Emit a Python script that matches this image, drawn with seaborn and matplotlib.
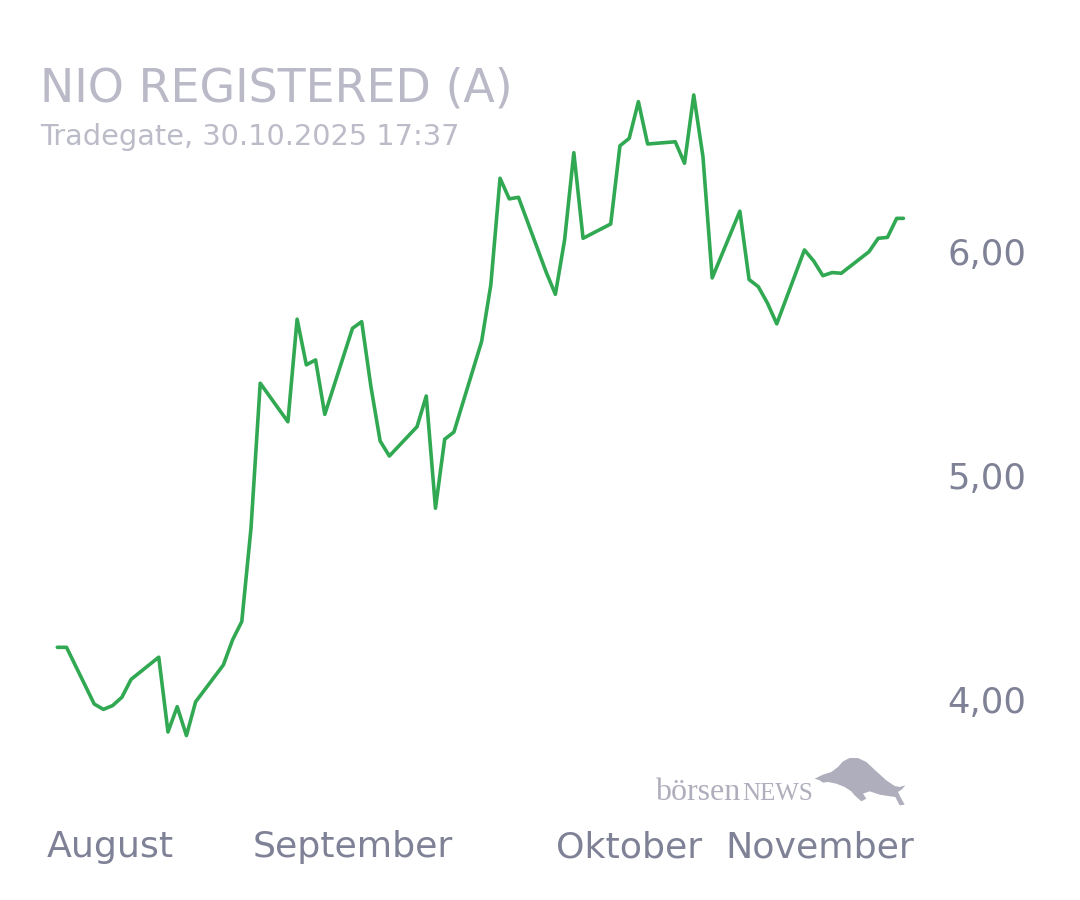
import matplotlib
matplotlib.use('Agg')
import matplotlib.pyplot as plt
from matplotlib.patches import Polygon
import seaborn as sns
import pandas as pd

# daily prices (EUR)
dates = ['2025-07-31', '2025-08-01', '2025-08-04', '2025-08-05', '2025-08-06', '2025-08-07', '2025-08-08',
         '2025-08-11', '2025-08-12', '2025-08-13', '2025-08-14', '2025-08-15', '2025-08-18', '2025-08-19',
         '2025-08-20', '2025-08-21', '2025-08-22', '2025-08-25', '2025-08-26', '2025-08-27', '2025-08-28',
         '2025-08-29', '2025-09-01', '2025-09-02', '2025-09-03', '2025-09-04', '2025-09-05', '2025-09-08',
         '2025-09-09', '2025-09-10', '2025-09-11', '2025-09-12', '2025-09-15', '2025-09-16', '2025-09-17',
         '2025-09-18', '2025-09-19', '2025-09-22', '2025-09-23', '2025-09-24', '2025-09-25', '2025-09-26',
         '2025-09-29', '2025-09-30', '2025-10-01', '2025-10-02', '2025-10-03', '2025-10-06', '2025-10-07',
         '2025-10-08', '2025-10-09', '2025-10-10', '2025-10-13', '2025-10-14', '2025-10-15', '2025-10-16',
         '2025-10-17', '2025-10-20', '2025-10-21', '2025-10-22', '2025-10-23', '2025-10-24', '2025-10-27',
         '2025-10-28', '2025-10-29', '2025-10-30 00:00', '2025-10-30 17:37']
prices = [4.235, 4.235, 3.982, 3.958, 3.975, 4.012, 4.092,
          4.191, 3.857, 3.970, 3.841, 3.992, 4.156, 4.268,
          4.350, 4.767, 5.414, 5.242, 5.700, 5.496, 5.518,
          5.275, 5.659, 5.689, 5.399, 5.156, 5.089, 5.220,
          5.357, 4.856, 5.164, 5.196, 5.600, 5.853, 6.329,
          6.237, 6.244, 5.910, 5.811, 6.054, 6.443, 6.061,
          6.125, 6.474, 6.507, 6.671, 6.482, 6.492, 6.396,
          6.701, 6.425, 5.884, 6.182, 5.877, 5.845, 5.771,
          5.679, 6.009, 5.960, 5.894, 5.908, 5.905, 6.001,
          6.061, 6.065, 6.150, 6.150]

month_labels = ['August', 'September', 'Oktober', 'November']
month_starts = ['2025-09-01', '2025-10-01']
y_ticks = [4, 5, 6]
y_labels = ['4,00', '5,00', '6,00']

df = pd.DataFrame({'date': pd.to_datetime(dates, format='mixed'), 'price': prices})

sns.set_style('white')
plt.rcParams['font.family'] = ['DejaVu Sans']

fig = plt.figure(figsize=(10.8, 9), dpi=100)
ax = fig.add_axes([47 / 1080, 1 - 790 / 900, 867 / 1080, 730 / 900])

sns.lineplot(data=df, x='date', y='price', ax=ax, color='#31a852', linewidth=2.6)

t0 = pd.Timestamp('2025-07-31')
x_lo = t0 - pd.Timedelta(days=1.117)
x_hi = t0 + pd.Timedelta(days=92.88)
ax.set_xlim(x_lo, x_hi)
ax.set_ylim(3.598, 6.857)

sns.despine(ax=ax, left=True, bottom=True)
ax.set_xlabel('')
ax.set_ylabel('')

tick_col = '#7f8196'
ax.set_xticks([x_lo] + list(pd.to_datetime(month_starts)) + [x_hi])
ax.set_xticklabels(month_labels, fontsize=26.2, color=tick_col)
ha = ['left', 'center', 'center', 'right']
for lab, h in zip(ax.get_xticklabels(), ha):
    lab.set_ha(h)
ax.tick_params(axis='x', length=0, pad=29)

ax.yaxis.tick_right()
ax.set_yticks(y_ticks)
ax.set_yticklabels(y_labels, fontsize=25.5, color=tick_col)
ax.tick_params(axis='y', length=0, pad=24)

# header
fig.text(40 / 1080, 1 - 101 / 900, 'NIO REGISTERED (A)', fontsize=33, color='#b9b9c7',
         va='baseline', ha='left')
fig.text(40 / 1080, 1 - 145 / 900, 'Tradegate, 30.10.2025 17:37', fontsize=20.7, color='#bcbcc9',
         va='baseline', ha='left')

# watermark
wm_col = '#aeaebd'
fig.text(655 / 1080, 1 - 800 / 900, 'börsen', fontsize=23, color=wm_col,
         family='Liberation Serif', va='baseline', ha='left')
fig.text(742 / 1080, 1 - 800 / 900, 'NEWS', fontsize=18, color=wm_col,
         family='Liberation Serif', va='baseline', ha='left')

bull = [(20, 80), (45, 68), (70, 60), (90, 45), (105, 28), (125, 18), (150, 18), (175, 30),
        (205, 58), (235, 85), (260, 102), (275, 105), (292, 100), (282, 112), (270, 120),
        (280, 140), (290, 158), (275, 160), (262, 135), (240, 132), (215, 128), (185, 118),
        (165, 125), (175, 140), (160, 148), (140, 130), (130, 118), (110, 105), (85, 95),
        (60, 90), (45, 92), (35, 85)]
pts = [((808 + bx / 3) / 1080, 1 - (752 + by / 3) / 900) for bx, by in bull]
fig.patches.append(Polygon(pts, closed=True, transform=fig.transFigure,
                           facecolor=wm_col, edgecolor='none'))

fig.savefig('out.png', dpi=100, facecolor='white')
